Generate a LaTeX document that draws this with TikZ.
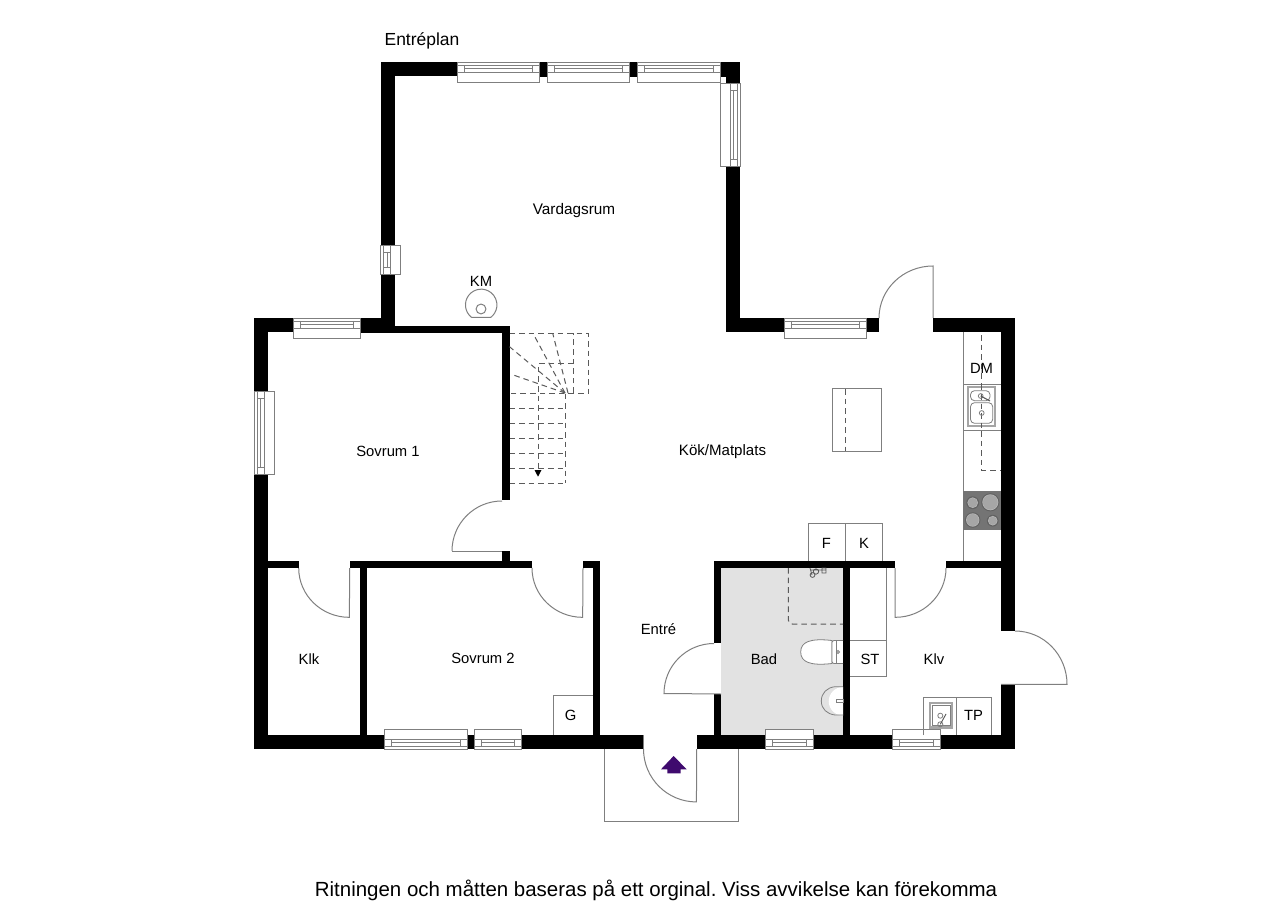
\documentclass[tikz,border=0pt]{standalone}
\usepackage{fontspec}
\setmainfont{Liberation Sans}
\frenchspacing
\definecolor{linegray}{HTML}{7F7F7F}
\definecolor{dashgray}{HTML}{5A5A5A}
\definecolor{badgray}{HTML}{E2E2E2}
\definecolor{hobgray}{HTML}{747474}
\definecolor{burnergray}{HTML}{A6A6A6}
\definecolor{arrowpurple}{HTML}{3F0A6E}
\tikzset{
  wall/.style={fill=black,draw=none},
  thin line/.style={draw=linegray,line width=0.75pt},
  frame line/.style={draw=linegray,line width=0.6pt},
  dash line/.style={draw=dashgray,line width=0.75pt,dash pattern=on 4.2pt off 3pt},
  room label/.style={font=\fontsize{11.1pt}{13pt}\selectfont,text=black,inner sep=0pt},
}
% horizontal window: x1, x2, y of outer wall face, direction towards the room
\newcommand\hwin[4]{%
  \fill[white] (#1,#3) rectangle (#2,{#3+#4*20});
  \draw[frame line] (#1,#3) rectangle (#2,{#3+#4*20});
  \draw[frame line] (#1,{#3+#4*10}) -- (#2,{#3+#4*10});
  \draw[frame line] (#1,{#3+#4*3}) -- (#2,{#3+#4*3});
  \draw[frame line] ({#1+7},{#3+#4*3}) -- ({#1+7},{#3+#4*10}) ({#2-7},{#3+#4*3}) -- ({#2-7},{#3+#4*10});
  \draw[frame line] ({#1+7},{#3+#4*6.5}) -- ({#2-7},{#3+#4*6.5});
}
% vertical window: y1, y2, x of outer wall face, direction towards the room
\newcommand\vwin[4]{%
  \fill[white] (#3,#1) rectangle ({#3+#4*20},#2);
  \draw[frame line] (#3,#1) rectangle ({#3+#4*20},#2);
  \draw[frame line] ({#3+#4*10},#1) -- ({#3+#4*10},#2);
  \draw[frame line] ({#3+#4*3},#1) -- ({#3+#4*3},#2);
  \draw[frame line] ({#3+#4*3},{#1+7}) -- ({#3+#4*10},{#1+7}) ({#3+#4*3},{#2-7}) -- ({#3+#4*10},{#2-7});
  \draw[frame line] ({#3+#4*6.5},{#1+7}) -- ({#3+#4*6.5},{#2-7});
}
\begin{document}
\begin{tikzpicture}[x=0.75pt,y=-0.75pt]
\useasboundingbox (0,0) rectangle (1280,905);
% bath floor
\fill[badgray] (721,568) rectangle (843,735);
% porch
\draw[thin line] (604,749) -- (604,821.5) -- (738.5,821.5) -- (738.5,749);
% walls
\fill[wall] (380.5,62) rectangle (457,76.5);
\fill[wall] (380.5,62) rectangle (395,332);
\fill[wall] (539.3,62) rectangle (547,76.7);
\fill[wall] (629.7,62) rectangle (637.5,76.7);
\fill[wall] (720,62) rectangle (740,76.7);
\fill[wall] (726,62) rectangle (740,83);
\fill[wall] (726,166) rectangle (740,332);
\fill[wall] (726,318) rectangle (784,332);
\fill[wall] (866,318) rectangle (879,332);
\fill[wall] (933,318) rectangle (1015,332);
\fill[wall] (1001,318) rectangle (1015,631);
\fill[wall] (1001,684.3) rectangle (1015,749);
\fill[wall] (254,318) rectangle (293.3,332);
\fill[wall] (360,318) rectangle (380.5,332);
\fill[wall] (254,318) rectangle (268,391);
\fill[wall] (254,474.3) rectangle (268,749);
\fill[wall] (360,325.5) rectangle (509.5,332.5);
\fill[wall] (502,325.5) rectangle (509.5,500);
\fill[wall] (502,551) rectangle (509.5,568);
\fill[wall] (254,561) rectangle (298.7,568);
\fill[wall] (349.7,561) rectangle (532,568);
\fill[wall] (583,561) rectangle (600,568);
\fill[wall] (360,561) rectangle (367.3,735);
\fill[wall] (593,561) rectangle (600,735);
\fill[wall] (254,735) rectangle (384.3,749);
\fill[wall] (467.7,735) rectangle (474,749);
\fill[wall] (521.7,735) rectangle (643,749);
\fill[wall] (696.7,735) rectangle (765,749);
\fill[wall] (813,735) rectangle (892.7,749);
\fill[wall] (940,735) rectangle (1015,749);
\fill[wall] (713.5,561) rectangle (895,568);
\fill[wall] (713.5,561) rectangle (721,643);
\fill[wall] (713.5,694) rectangle (721,735);
\fill[wall] (843,561) rectangle (850,735);
\fill[wall] (946,561) rectangle (1001,568);
% windows
\hwin{457}{539.3}{62.3}{1}
\hwin{547}{629.7}{62.3}{1}
\hwin{637.5}{720}{62.3}{1}
\vwin{83}{166}{740}{-1}
\vwin{245}{274.5}{380.5}{1}
\hwin{293.3}{360}{318}{1}
\vwin{391}{474.3}{254}{1}
\hwin{784}{866}{318}{1}
\hwin{384.3}{467.7}{749}{-1}
\hwin{474}{521.7}{749}{-1}
\hwin{765}{813}{749}{-1}
\hwin{892.7}{940}{749}{-1}
% doors
\draw[thin line] (879,318) arc[start angle=180,end angle=90,x radius=40.5pt,y radius=39pt] -- (933,318);
\draw[thin line] (452,551) arc[start angle=180,end angle=90,radius=37.5pt];
\draw[thin line] (452,551) -- (502,551);
\draw[thin line] (298.7,568) arc[start angle=180,end angle=270,x radius=38pt,y radius=37pt] -- (349.7,568);
\draw[thin line] (532,568) arc[start angle=180,end angle=270,x radius=38pt,y radius=37pt] -- (583,568);
\draw[thin line] (946,568) arc[start angle=0,end angle=-90,x radius=38.2pt,y radius=37pt] -- (895,568);
\draw[thin line] (1015,631) arc[start angle=90,end angle=0,x radius=39pt,y radius=40pt] -- (1001,684.3);
\draw[thin line] (714,643.5) arc[start angle=90,end angle=180,radius=37.5pt] -- (721,694);
\draw[thin line] (643.5,749) arc[start angle=180,end angle=270,radius=39.7pt] -- (696.7,749);
\draw[thin line] (643,735) -- (643,749);
% entrance arrow
\fill[arrowpurple] (673.6,756) -- (686.7,769.3) -- (680.7,769.3) -- (680.7,773.3) -- (667.3,773.3) -- (667.3,769.3) -- (661,769.3) -- cycle;
% stove
\draw[thin line] (471.5,317.3) arc[start angle=232,end angle=-52,radius=11.8pt] -- cycle;
\draw[thin line] (481,309) circle[radius=3.7pt];
% stairs
\draw[dash line] (509.5,333.3) -- (588.3,333.3) -- (588.3,393.7) -- (509.5,393.7);
\draw[dash line] (565,393.7) -- (565,483.3);
\foreach \yy in {408.7,423.7,438.7,453.7,468.7,483.3}
  \draw[dash line] (509.5,\yy) -- (565,\yy);
\draw[dash line] (565,393) -- (509.5,346.7);
\draw[dash line] (565,393) -- (513.3,375);
\draw[dash line] (565,393) -- (533,333.3);
\draw[dash line] (568,393) -- (552.7,333.3);
\draw[dash line] (573.3,393) -- (573.3,333.3);
\draw[dash line] (573.3,363.7) -- (538,363.7) -- (538,470);
\fill[black] (534.5,470) -- (541.5,470) -- (538,476.7) -- cycle;
% kitchen
\draw[thin line] (963.3,332) -- (963.3,561);
\draw[thin line] (963.3,384.3) -- (1001,384.3);
\draw[thin line] (963.3,430.7) -- (1001,430.7);
\draw[dash line] (981.3,335) -- (981.3,470) -- (1001,470);
\fill[white] (967.7,387.3) rectangle (995.3,425.7);
\draw[draw=linegray!70,line width=1.4pt] (967.7,387.3) rectangle (995.3,425.7);
\draw[frame line,rounded corners=3pt] (970.5,390.7) rectangle (990,400.7);
\draw[frame line,rounded corners=3pt] (970.5,402.7) rectangle (992.7,423.3);
\draw[dash line] (981.3,384.3) -- (981.3,430.7);
\draw[frame line] (980.7,396) circle[radius=1.8pt];
\draw[frame line] (981.7,413) circle[radius=1.8pt];
\draw[draw=dashgray,line width=0.8pt] (980.7,396) -- (990,401);
\fill[hobgray] (963.3,491) rectangle (1001,529.7);
\foreach \cx/\cy/\rr in {972.7/502.7/4.6,990.3/502.3/6.6,972.7/520/5.6,992.7/520.7/4.2}{
  \fill[black!62] (\cx,\cy) circle[radius=\rr pt + 0.2pt];
  \fill[white!72!black] (\cx,\cy) circle[radius=\rr pt - 0.6pt];
  \fill[burnergray] (\cx,\cy) circle[radius=\rr pt - 1.1pt];
}
% island
\draw[thin line] (832.7,388) rectangle (881.7,451);
\draw[dash line] (845.3,389) -- (845.3,451);
% F, K
\draw[thin line] (808.3,561) -- (808.3,523.7) -- (882.7,523.7) -- (882.7,561);
\draw[thin line] (845.7,523.7) -- (845.7,561);
% bath
\draw[dash line,rounded corners=3pt] (788.3,568) -- (788.3,624) -- (843,624);
\draw[draw=dashgray,line width=0.6pt] (810,568) -- (812,575) (812.5,575) circle[radius=1.8pt] (816,571.5) circle[radius=2pt] (811,570) -- (826,570) (822,568) rectangle (826,573);
\fill[white] (832,640.5) .. controls (810,638) and (800.7,642) .. (800.7,652) .. controls (800.7,662) and (810,666) .. (832,663.5) -- cycle;
\draw[frame line] (832,640.5) .. controls (810,638) and (800.7,642) .. (800.7,652) .. controls (800.7,662) and (810,666) .. (832,663.5) -- cycle;
\fill[white] (832,641) rectangle (843,663);
\draw[frame line,rounded corners=1.5pt] (843,640.5) -- (832,640.5) -- (832,663.5) -- (843,663.5);
\draw[frame line] (836.5,640.5) -- (836.5,663.5);
\draw[frame line] (838,652) circle[radius=1.1pt];
\fill[white] (843,687) arc[start angle=90,end angle=270,radius=10.7pt];
\draw[frame line] (843,686.7) -- (835,686.7) .. controls (827,687.5) and (821.3,693) .. (821.3,701) .. controls (821.3,709) and (827,714) .. (835,715) -- (843,715);
\draw[frame line] (836,699.5) rectangle (843,702.5);
% ST
\draw[thin line] (886.7,568) -- (886.7,676.3) -- (850,676.3);
\draw[thin line] (850,640) -- (886.7,640);
% Klv
\draw[thin line] (923.7,735) -- (923.7,697.7) -- (991.7,697.7) -- (991.7,735);
\draw[thin line] (956.7,697.7) -- (956.7,735);
\draw[draw=linegray!70,line width=1.6pt] (929.7,703.3) rectangle (952.3,727.5);
\draw[frame line] (932,705.5) rectangle (950,725.5);
\draw[frame line] (940.3,715.7) circle[radius=1.9pt];
\draw[frame line] (940.3,724.3) circle[radius=1.9pt];
\draw[draw=dashgray,line width=0.7pt] (940.3,724.3) -- (946,714);
% G
\draw[thin line] (553.3,735) -- (553.3,695.7) -- (593,695.7);
% labels
\node[room label,font=\fontsize{11.5pt}{13pt}\selectfont] (lVardag) at (574,211) {Vardagsrum};
\node[room label] (lKM) at (481,281) {KM};
\node[room label] (lSov1) at (388,451.5) {Sovrum 1};
\node[room label,font=\fontsize{11.3pt}{13pt}\selectfont] (lKok) at (722.5,452) {Kök/Matplats};
\node[room label] (lKlk) at (309,659) {Klk};
\node[room label] (lSov2) at (483,658.5) {Sovrum 2};
\node[room label] (lEntre) at (658.5,629) {Entré};
\node[room label] (lBad) at (764,659) {Bad};
\node[room label] (lST) at (870,659) {ST};
\node[room label] (lKlv) at (934,659) {Klv};
\node[room label] (lG) at (570.5,715.5) {G};
\node[room label] (lTP) at (973.5,715.5) {TP};
\node[room label] (lF) at (826.5,543.5) {F};
\node[room label] (lK) at (864,543.5) {K};
\node[room label] (lDM) at (981.5,368.5) {DM};
\node[room label,font=\fontsize{13.1pt}{15pt}\selectfont] (lPlan) at (422,41) {Entréplan};
\node[room label,font=\fontsize{15.35pt}{17pt}\selectfont] (lNote) at (656,890) {Ritningen och måtten baseras på ett orginal. Viss avvikelse kan förekomma};
\end{tikzpicture}
\end{document}
